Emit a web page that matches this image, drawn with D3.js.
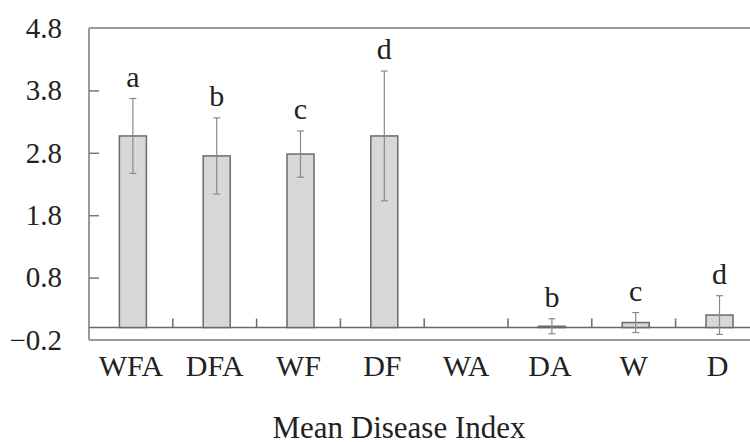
<!DOCTYPE html>
<html>
<head>
<meta charset="utf-8">
<script src="https://cdn.jsdelivr.net/npm/d3@7"></script>
<style>
  html, body { margin: 0; padding: 0; background: #fff; overflow: hidden; }
  svg { display: block; font-family: 'Liberation Serif', 'DejaVu Serif', serif; }
</style>
</head>
<body>
<div id="chart"></div>
<script>
const categories = ['WFA', 'DFA', 'WF', 'DF', 'WA', 'DA', 'W', 'D']
const means = [3.07, 2.75, 2.78, 3.07, 0, 0.02, 0.08, 0.2]
const errors = [0.6, 0.61, 0.37, 1.04, 0, 0.12, 0.16, 0.31]
const letters = ['a', 'b', 'c', 'd', '', 'b', 'c', 'd']
const yTicks = [4.8, 3.8, 2.8, 1.8, 0.8, -0.2]
const axisTitle = 'Mean Disease Index'

const width = 750
const height = 442
const margin = { top: 28, left: 89, bottom: 102 }
const plotRight = margin.left + 8 * 83.8

const svg = d3.select('#chart')
  .append('svg')
  .attr('width', width)
  .attr('height', height)

const x = d3.scaleBand()
  .domain(categories)
  .range([margin.left, plotRight])

const y = d3.scaleLinear()
  .domain([-0.2, 4.8])
  .range([height - margin.bottom, margin.top])

// pattern for the stippled bars
const pattern = svg.append('defs').append('pattern')
  .attr('id', 'stipple')
  .attr('width', 4)
  .attr('height', 4)
  .attr('patternUnits', 'userSpaceOnUse')
pattern.append('rect').attr('width', 4).attr('height', 4).attr('fill', '#dadada')
pattern.append('rect').attr('x', 1).attr('y', 1).attr('width', 1).attr('height', 1).attr('fill', '#c4c4c4')
pattern.append('rect').attr('x', 3).attr('y', 3).attr('width', 1).attr('height', 1).attr('fill', '#cacaca')

// frame
const frame = svg.append('g').attr('stroke', '#9a9a9a').attr('stroke-width', 2)
frame.append('line')
  .attr('x1', margin.left).attr('x2', plotRight)
  .attr('y1', y(4.8)).attr('y2', y(4.8))
frame.append('line')
  .attr('x1', margin.left).attr('x2', plotRight)
  .attr('y1', y(-0.2)).attr('y2', y(-0.2))
frame.append('line')
  .attr('x1', margin.left).attr('x2', margin.left)
  .attr('y1', y(4.8)).attr('y2', y(-0.2))

// Y
svg.append('g')
  .attr('transform', `translate(${margin.left},0)`)
  .call(d3.axisLeft(y).tickValues(yTicks).tickSizeInner(-10).tickSizeOuter(0).tickPadding(27).tickFormat(d3.format('.1f')))
  .call(g => g.select('.domain').remove())
  .call(g => g.selectAll('.tick line')
    .attr('stroke', '#777')
    .attr('stroke-width', 1.5)
    .filter(d => d === 4.8 || d === -0.2).remove())
  .call(g => g.selectAll('.tick text')
    .attr('fill', '#222')
    .attr('font-size', 29)
    .attr('font-family', "'Liberation Serif', serif"))

// X labels
svg.append('g')
  .attr('transform', `translate(0,${y(-0.2)})`)
  .call(d3.axisBottom(x).tickSize(0).tickPadding(15))
  .call(g => g.select('.domain').remove())
  .call(g => g.selectAll('.tick text')
    .attr('fill', '#222')
    .attr('font-size', 30)
    .attr('font-family', "'Liberation Serif', serif"))

// zero line with category separators
const zero = svg.append('g').attr('stroke', '#6a6a6a').attr('stroke-width', 1.5)
zero.append('line')
  .attr('x1', margin.left).attr('x2', plotRight)
  .attr('y1', y(0)).attr('y2', y(0))
zero.selectAll('line.sep')
  .data(categories.slice(1))
  .join('line')
  .attr('class', 'sep')
  .attr('x1', d => x(d)).attr('x2', d => x(d))
  .attr('y1', y(0)).attr('y2', y(0) - 9)

// bars
const barWidth = 27
const bar = svg.append('g')
  .selectAll('g.bar')
  .data(categories.map((c, i) => ({ c, mean: means[i], err: errors[i], letter: letters[i] })))
  .join('g')
  .attr('class', 'bar')
  .attr('transform', d => `translate(${x(d.c) + x.bandwidth() / 2 + 2},0)`)

bar.filter(d => d.mean > 0)
  .append('rect')
  .attr('x', -barWidth / 2)
  .attr('width', barWidth)
  .attr('y', d => y(d.mean))
  .attr('height', d => y(0) - y(d.mean))
  .attr('fill', 'url(#stipple)')
  .attr('stroke', '#6a6a6a')
  .attr('stroke-width', 1.5)

const err = bar.filter(d => d.err > 0)
  .append('g')
  .attr('stroke', '#8a8a8a')
  .attr('stroke-width', 1.2)
err.append('line')
  .attr('y1', d => y(d.mean - d.err))
  .attr('y2', d => y(d.mean + d.err))
err.append('line')
  .attr('x1', -3.5).attr('x2', 3.5)
  .attr('y1', d => y(d.mean + d.err))
  .attr('y2', d => y(d.mean + d.err))
err.append('line')
  .attr('x1', -3.5).attr('x2', 3.5)
  .attr('y1', d => y(d.mean - d.err))
  .attr('y2', d => y(d.mean - d.err))

bar.append('text')
  .attr('text-anchor', 'middle')
  .attr('y', d => y(d.mean + d.err) - 12)
  .attr('font-size', 30)
  .attr('fill', '#222')
  .text(d => d.letter)

svg.append('text')
  .attr('x', 399)
  .attr('y', 438)
  .attr('text-anchor', 'middle')
  .attr('font-size', 31)
  .attr('fill', '#222')
  .text(axisTitle)
</script>
</body>
</html>
